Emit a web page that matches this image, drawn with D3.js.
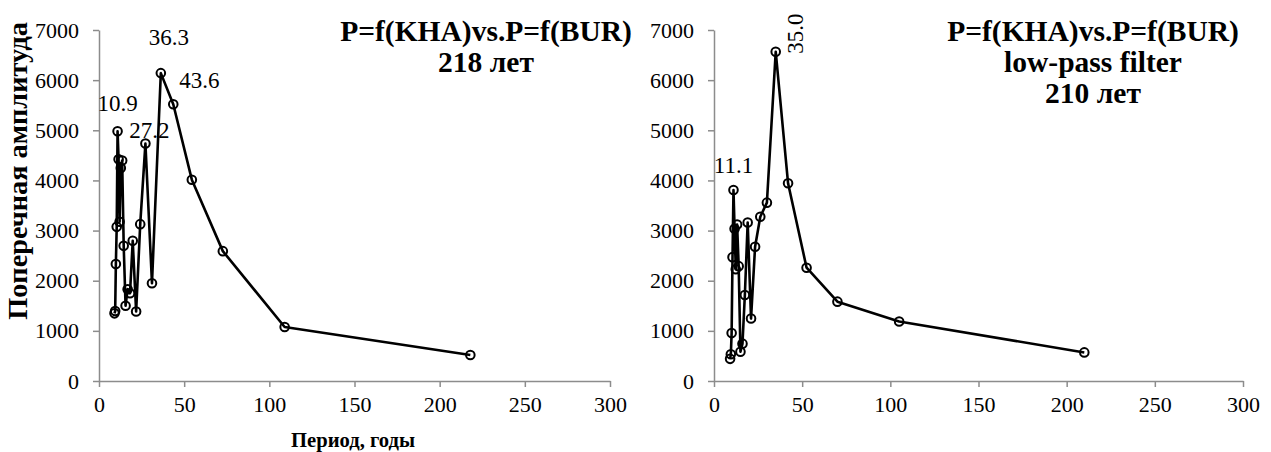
<!DOCTYPE html>
<html>
<head>
<meta charset="utf-8">
<script src="https://cdn.jsdelivr.net/npm/d3@7"></script>
<style>
  html, body { margin: 0; padding: 0; background: #fff; }
  svg { display: block; }
  svg text { font-family: "Liberation Serif", "Times New Roman", Times, "DejaVu Serif", serif !important; fill: #000; }
</style>
</head>
<body>
<svg id="chart" width="1271" height="452"></svg>
<script>
// ---- Data ----
const leftPeriods = [218, 109, 72.7, 54.5, 43.6, 36.3, 31.1, 27.25, 24.2, 21.8, 19.8, 18.2, 16.8, 15.6, 14.5, 13.6, 12.8, 12.1, 11.5, 10.9, 10.4, 9.9, 9.5, 9.1];
const leftValues  = [519, 1077, 2590, 4015, 5520, 6140, 1950, 4735, 3128, 1385, 2795, 1750, 1830, 1500, 2695, 4396, 4250, 3175, 4422, 4980, 3074, 2331, 1395, 1349];

const rightPeriods = [210, 105, 70, 52.5, 42, 35, 30, 26.25, 23.3, 21, 19.1, 17.5, 16.15, 15, 14, 13.1, 12.35, 11.67, 11.05, 10.5, 10, 9.55, 9.13];
const rightValues  = [570, 1187, 1582, 2260, 3943, 6567, 3557, 3277, 2678, 1245, 3160, 1715, 745, 584, 2290, 3120, 2230, 3035, 3809, 2470, 955, 532, 442];

const xTicks = [0, 50, 100, 150, 200, 250, 300];
const yTicks = [0, 1000, 2000, 3000, 4000, 5000, 6000, 7000];

const leftTitle = ["P=f(KHA)vs.P=f(BUR)", "218 лет"];
const rightTitle = ["P=f(KHA)vs.P=f(BUR)", "low-pass filter", "210 лет"];
const yAxisTitle = "Поперечная амплитуда";
const xAxisTitle = "Период, годы";

// point labels: [period, text]
const leftLabels = [[10.9, "10.9"], [27.25, "27.2"], [36.3, "36.3"], [43.6, "43.6"]];
const rightLabels = [[11.05, "11.1"], [35, "35.0"]];

// ---- Drawing ----
const svg = d3.select("#chart");
const axisColor = "#8c8c8c";
const serif = "'Liberation Serif', 'Times New Roman', Times, 'DejaVu Serif', serif";

function panel(x0, x1, periods, values) {
  const x = d3.scaleLinear().domain([0, 300]).range([x0, x1]);
  const y = d3.scaleLinear().domain([0, 7000]).range([381, 30]);
  const g = svg.append("g");

  const ya = g.append("g").attr("transform", `translate(${x0},0)`)
    .call(d3.axisLeft(y).tickValues(yTicks).tickSize(6).tickSizeOuter(0).tickPadding(14).tickFormat(d3.format("d")));
  const xa = g.append("g").attr("transform", `translate(0,${y(0)})`)
    .call(d3.axisBottom(x).tickValues(xTicks).tickSize(6).tickSizeOuter(0).tickPadding(9).tickFormat(d3.format("d")));
  [ya, xa].forEach(a => {
    a.attr("font-family", serif);
    a.selectAll("path.domain").attr("stroke", axisColor).attr("stroke-width", 1.5);
    a.selectAll(".tick line").attr("stroke", axisColor).attr("stroke-width", 1.5);
    a.selectAll(".tick text").attr("font-size", 22).attr("fill", "#000");
  });

  const data = periods.map((p, i) => ({ p, v: values[i] }));
  g.append("path").datum(data)
    .attr("fill", "none").attr("stroke", "#000").attr("stroke-width", 2.6).attr("stroke-linejoin", "round")
    .attr("d", d3.line().x(d => x(d.p)).y(d => y(d.v)));
  g.selectAll("circle.pt").data(data).join("circle")
    .attr("class", "pt")
    .attr("cx", d => x(d.p)).attr("cy", d => y(d.v)).attr("r", 4.3)
    .attr("fill", "none").attr("stroke", "#000").attr("stroke-width", 2);
  return { x, y, g, data };
}

const L = panel(99, 610, leftPeriods, leftValues);
const R = panel(714, 1243, rightPeriods, rightValues);

function valAt(P, period) { return P.data.find(d => d.p === period).v; }

// left labels
const lOff = { "10.9": [0, -28], "27.2": [4, -14], "36.3": [8, -36], "43.6": [26, -24] };
leftLabels.forEach(([p, t]) => {
  const o = lOff[t];
  L.g.append("text").attr("x", L.x(p) + o[0]).attr("y", L.y(valAt(L, p)) + o[1] + 8)
    .attr("text-anchor", "middle").attr("font-size", 23).text(t);
});
// right labels
R.g.append("text").attr("x", R.x(rightLabels[0][0])).attr("y", R.y(valAt(R, rightLabels[0][0])) - 17)
  .attr("text-anchor", "middle").attr("font-size", 23).text(rightLabels[0][1]);
{
  const px = R.x(rightLabels[1][0]) + 27, py = R.y(valAt(R, rightLabels[1][0])) - 18;
  R.g.append("text").attr("transform", `translate(${px},${py}) rotate(-90)`)
    .attr("text-anchor", "middle").attr("font-size", 23).text(rightLabels[1][1]);
}

// titles
const lt = svg.append("text").attr("text-anchor", "middle").attr("font-weight", "bold").attr("font-size", 29.5);
leftTitle.forEach((s, i) => lt.append("tspan").attr("x", 486).attr("y", 41 + i * 31).text(s));
const rt = svg.append("text").attr("text-anchor", "middle").attr("font-weight", "bold").attr("font-size", 29.5);
rightTitle.forEach((s, i) => rt.append("tspan").attr("x", 1093).attr("y", 41 + i * 31).text(s));

// axis titles
svg.append("text").attr("transform", "translate(27,171) rotate(-90)")
  .attr("text-anchor", "middle").attr("font-weight", "bold").attr("font-size", 28.3).text(yAxisTitle);
svg.append("text").attr("x", 353).attr("y", 447)
  .attr("text-anchor", "middle").attr("font-weight", "bold").attr("font-size", 20.6).text(xAxisTitle);
</script>
</body>
</html>
